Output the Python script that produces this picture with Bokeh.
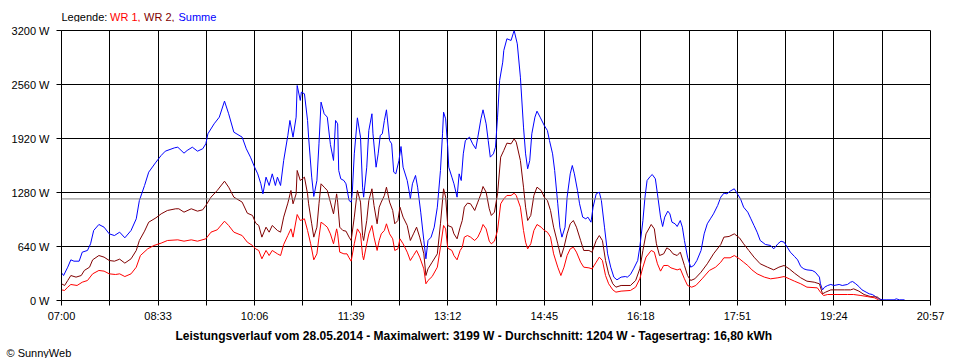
from bokeh.plotting import figure
from bokeh.models import FixedTicker, Span, Range1d, ColumnDataSource, Title
from bokeh.layouts import column
from bokeh.core.properties import value
from bokeh.embed import file_html
from bokeh.resources import INLINE

# ---- axis definitions (time in minutes after 07:00) ----
x_ticks = [0, 93, 186, 279, 372, 465, 558, 651, 744, 837]
x_labels = ["07:00", "08:33", "10:06", "11:39", "13:12", "14:45", "16:18", "17:51", "19:24", "20:57"]
x_half_ticks = [46.5, 139.5, 232.5, 325.5, 418.5, 511.5, 604.5, 697.5, 790.5]
y_ticks = [0, 640, 1280, 1920, 2560, 3200]
y_labels = ["0 W", "640 W", "1280 W", "1920 W", "2560 W", "3200 W"]
average_w = 1204

legend_texts = ["Legende:", "WR 1,", "WR 2,", "Summe"]
legend_colors = ["black", "#FF0000", "#800000", "#0000FF"]
title_text = ("Leistungsverlauf vom 28.05.2014 - Maximalwert: 3199 W - "
              "Durchschnitt: 1204 W - Tagesertrag: 16,80 kWh")
credit_text = "\u00a9 SunnyWeb"

# ---- Summe (blue) ----
summe_t = [0, 2, 6, 9, 12, 17, 20, 25, 28, 31, 36, 41, 46, 51, 56, 61, 67, 72, 75, 80, 84, 91, 96, 100,
           109, 112, 118, 121, 126, 131, 136, 139, 141, 147, 152, 157, 161, 166, 174, 178, 182, 186, 189,
           192, 194, 197, 200, 203, 206, 208, 211, 214, 218, 220, 223, 226, 227, 230, 231, 234, 237, 238,
           241, 243, 246, 248, 250, 253, 256, 259, 262, 264, 266, 267, 269, 272, 274, 277, 279, 280, 282,
           285, 288, 290, 291, 294, 296, 299, 300, 303, 305, 307, 309, 311, 313, 316, 318, 320, 322, 325,
           327, 329, 333, 335, 336, 338, 341, 343, 346, 349, 351, 353, 356, 359, 362, 365, 367, 368, 370,
           372, 373, 376, 378, 381, 383, 385, 387, 389, 393, 396, 399, 401, 404, 406, 409, 411, 413, 416,
           418, 420, 422, 425, 426, 429, 433, 435, 436, 439, 442, 445, 447, 449, 451, 453, 456, 458, 461,
           465, 468, 470, 473, 475, 478, 480, 482, 485, 487, 490, 492, 494, 497, 499, 502, 505, 507, 510,
           512, 515, 518, 520, 523, 526, 529, 532, 535, 539, 543, 545, 548, 551, 555, 557, 560, 562, 564,
           567, 569, 572, 574, 577, 579, 581, 584, 586, 588, 591, 593, 596, 598, 600, 603, 606, 609, 612,
           616, 619, 622, 625, 628, 632, 635, 638, 641, 644, 648, 651, 654, 657, 661, 664, 667, 670, 673,
           678, 683, 686, 690, 693, 696, 699, 702, 706, 709, 712, 715, 718, 723, 726, 730, 731, 733, 735,
           738, 741, 744, 749, 752, 757, 760, 762, 765, 768, 771, 775, 778, 781, 784, 787, 791, 795, 802,
           804, 807, 812]
summe_w = [328, 296, 395, 482, 466, 466, 573, 593, 672, 830, 901, 869, 790, 770, 810, 743, 830, 968, 1185,
           1363, 1521, 1640, 1719, 1770, 1810, 1817, 1746, 1778, 1817, 1770, 1798, 1857, 1976, 2094, 2173,
           2363, 2213, 1995, 1936, 1798, 1699, 1580, 1501, 1383, 1264, 1462, 1363, 1501, 1363, 1462, 1363,
           1659, 1956, 2134, 1936, 2173, 2548, 2371, 2469, 2450, 2134, 1936, 1462, 1233, 1422, 1857, 2351,
           2213, 2173, 1850, 1660, 2134, 2094, 1541, 1442, 1422, 1383, 1185, 1166, 1264, 1738, 2165, 1936,
           1343, 1225, 1580, 2015, 2213, 1976, 1580, 1738, 1956, 1976, 2134, 2260, 1896, 1857, 1521, 1501,
           1659, 1825, 1580, 1422, 1284, 1205, 1383, 1482, 1343, 1047, 711, 494, 711, 751, 869, 1106, 1541,
           1976, 2232, 2153, 1817, 1580, 1462, 1383, 1225, 1501, 1422, 1738, 1896, 1936, 1857, 1798, 1936,
           2153, 2260, 2094, 1896, 1699, 1738, 1817, 2173, 2608, 2825, 2963, 3102, 3082, 3161, 3199, 3042,
           2647, 2055, 1738, 1561, 1659, 1976, 2173, 2244, 2173, 2074, 2015, 1896, 1738, 1541, 1146, 869,
           751, 869, 1225, 1501, 1600, 1501, 1304, 1146, 988, 968, 988, 928, 1106, 1264, 1284, 1185, 869,
           553, 395, 277, 245, 277, 284, 277, 308, 375, 474, 632, 948, 1225, 1422, 1470, 1493, 1442, 1264,
           988, 877, 988, 1059, 1027, 928, 909, 877, 948, 869, 711, 514, 395, 415, 474, 593, 790, 909, 968,
           1027, 1126, 1225, 1272, 1264, 1296, 1324, 1264, 1205, 1106, 1047, 968, 889, 810, 711, 664, 652,
           612, 672, 703, 691, 632, 573, 522, 482, 403, 375, 363, 356, 336, 277, 198, 126, 158, 178, 190,
           178, 190, 178, 190, 217, 225, 198, 166, 126, 99, 79, 71, 47, 20, 8, 8, 8, 20, 8, 8]

# ---- WR 2 (dark red) ----
wr2_t = [0, 3, 6, 9, 14, 19, 22, 27, 30, 36, 41, 46, 51, 56, 61, 67, 72, 75, 80, 84, 91, 96, 102, 110, 113,
         118, 125, 131, 136, 139, 144, 150, 157, 161, 166, 174, 179, 184, 187, 190, 193, 197, 200, 203, 208,
         211, 214, 218, 221, 223, 226, 227, 230, 234, 237, 238, 241, 243, 246, 248, 250, 253, 256, 259, 262,
         265, 266, 268, 271, 274, 277, 279, 282, 285, 288, 290, 291, 294, 296, 299, 301, 304, 306, 308, 311,
         313, 316, 319, 321, 324, 326, 329, 333, 336, 339, 342, 345, 349, 351, 353, 357, 362, 365, 368, 370,
         372, 376, 378, 381, 384, 386, 388, 391, 394, 398, 401, 404, 406, 409, 412, 414, 417, 420, 423, 426,
         429, 433, 436, 438, 442, 445, 447, 449, 452, 455, 458, 462, 465, 468, 471, 474, 478, 481, 484, 487,
         490, 493, 496, 500, 503, 508, 511, 515, 518, 521, 524, 527, 531, 534, 539, 548, 553, 557, 560, 563,
         568, 571, 573, 576, 580, 583, 586, 589, 593, 596, 600, 603, 606, 610, 616, 622, 628, 635, 638, 643,
         648, 653, 657, 662, 667, 673, 680, 686, 691, 696, 701, 706, 712, 718, 725, 730, 733, 736, 741, 747,
         754, 760, 763, 768, 773, 779, 786, 789]
wr2_w = [198, 178, 237, 296, 277, 296, 356, 395, 482, 533, 514, 474, 466, 490, 443, 494, 593, 711, 822, 928,
         980, 1027, 1067, 1087, 1087, 1047, 1087, 1059, 1075, 1126, 1225, 1304, 1414, 1343, 1225, 1166, 1035,
         1008, 917, 889, 751, 869, 810, 889, 830, 810, 988, 1154, 1304, 1146, 1264, 1541, 1422, 1462, 1264,
         1146, 909, 751, 869, 1146, 1383, 1343, 1304, 1166, 1027, 1264, 1166, 869, 830, 822, 751, 711, 988,
         1304, 1166, 770, 711, 948, 1185, 1324, 1126, 909, 1106, 1166, 1245, 1343, 1166, 1067, 909, 948,
         1106, 988, 889, 711, 790, 869, 751, 553, 296, 375, 454, 553, 909, 1324, 1225, 889, 869, 790, 731,
         869, 948, 1106, 1154, 1146, 1067, 1166, 1264, 1351, 1284, 1087, 1008, 1047, 1264, 1699, 1778, 1865,
         1857, 1916, 1877, 1659, 1343, 1106, 948, 1008, 1245, 1343, 1304, 1225, 1185, 1067, 869, 672, 514,
         632, 790, 909, 948, 869, 711, 593, 593, 573, 711, 770, 711, 474, 316, 198, 158, 178, 178, 237, 375,
         593, 790, 901, 849, 672, 533, 553, 624, 601, 553, 533, 573, 415, 296, 237, 257, 336, 435, 553, 664,
         751, 759, 790, 743, 672, 593, 514, 435, 395, 363, 395, 415, 375, 324, 269, 229, 217, 198, 79, 99,
         126, 126, 126, 126, 138, 111, 71, 47, 40, 8]

# ---- WR 1 (red) ----
wr1_t = [0, 3, 6, 9, 15, 20, 25, 30, 36, 41, 46, 52, 56, 61, 67, 72, 76, 83, 89, 96, 102, 112, 118, 125, 131,
         139, 144, 150, 157, 161, 166, 174, 179, 184, 187, 190, 193, 197, 200, 203, 208, 211, 214, 218, 221,
         223, 227, 230, 234, 237, 240, 243, 246, 248, 250, 253, 256, 259, 262, 265, 266, 268, 272, 275, 277,
         279, 282, 285, 288, 290, 291, 294, 296, 299, 301, 304, 306, 308, 311, 313, 316, 319, 321, 324, 326,
         329, 333, 336, 339, 342, 345, 349, 351, 353, 357, 362, 365, 368, 370, 372, 376, 378, 381, 384, 386,
         388, 391, 394, 398, 401, 404, 406, 409, 412, 414, 417, 420, 423, 426, 429, 433, 436, 438, 442, 445,
         447, 449, 452, 455, 458, 462, 465, 468, 471, 474, 478, 481, 484, 487, 490, 493, 496, 500, 503, 508,
         511, 515, 518, 521, 524, 527, 531, 534, 539, 548, 553, 557, 560, 563, 568, 571, 574, 577, 580, 584,
         587, 590, 593, 596, 600, 603, 607, 611, 617, 624, 630, 635, 638, 644, 648, 653, 657, 661, 665, 670,
         677, 683, 690, 696, 701, 706, 712, 718, 728, 731, 734, 738, 747, 757, 763, 770, 776, 783, 787]
wr1_w = [126, 119, 158, 190, 178, 217, 237, 316, 356, 348, 316, 308, 316, 284, 316, 395, 533, 612, 652, 680,
         711, 719, 703, 719, 703, 731, 810, 838, 940, 889, 810, 770, 691, 652, 612, 593, 494, 593, 533, 593,
         553, 533, 664, 770, 849, 751, 1019, 948, 968, 830, 672, 482, 553, 751, 928, 901, 869, 790, 672, 849,
         790, 573, 553, 553, 506, 466, 672, 849, 790, 533, 482, 672, 790, 889, 751, 593, 711, 790, 830, 909,
         790, 731, 593, 612, 731, 672, 573, 474, 533, 593, 514, 375, 198, 237, 284, 395, 632, 889, 849, 620,
         593, 533, 482, 593, 632, 751, 770, 751, 711, 751, 830, 901, 849, 703, 672, 703, 830, 1146, 1205,
         1245, 1245, 1272, 1245, 1106, 830, 691, 612, 672, 830, 901, 869, 830, 810, 751, 553, 395, 296, 395,
         533, 612, 632, 573, 454, 395, 387, 375, 454, 514, 474, 296, 198, 126, 99, 111, 119, 158, 257, 395,
         514, 593, 573, 435, 348, 415, 415, 387, 375, 363, 375, 257, 178, 158, 178, 257, 356, 395, 454, 506,
         506, 533, 494, 454, 415, 363, 316, 277, 257, 269, 284, 257, 229, 198, 158, 150, 99, 59, 71, 71, 71,
         71, 59, 47, 32, 8]

FONT = "Liberation Sans"
W = 950
FRAME_L, FRAME_R = 61, 930


def text_strip(h):
    # frames of a column are aligned with the chart frame, so map the strip's
    # x range onto page pixels covered by that frame
    f = figure(width=W, height=h, output_backend="svg", toolbar_location=None,
               x_range=Range1d(FRAME_L, FRAME_R), y_range=Range1d(0, h),
               x_axis_location=None, y_axis_location=None, min_border=0,
               min_border_left=FRAME_L, min_border_right=W - FRAME_R)
    f.grid.visible = False
    f.outline_line_color = None
    f.background_fill_color = "white"
    f.border_fill_color = "white"
    return f


# ---- top strip: legend ----
top = text_strip(22)
leg_src = ColumnDataSource(dict(x=[61, 109.5, 143.5, 178], y=[5.5] * 4,
                                text=legend_texts, color=legend_colors))
top.text(x="x", y="y", text="text", text_color="color", source=leg_src,
         text_font=value(FONT), text_font_size="11px", text_baseline="middle", text_align="left")

# ---- main chart ----
p = figure(width=W, height=304, output_backend="svg", toolbar_location=None,
           x_range=Range1d(0, 837), y_range=Range1d(0, 3200),
           min_border_left=FRAME_L, min_border_right=W - FRAME_R, min_border_top=8, min_border_bottom=26)
p.background_fill_color = "white"
p.border_fill_color = "white"
p.outline_line_color = "black"
p.outline_line_alpha = 1.0
p.outline_line_width = 1

xa = p.xaxis[0]
xa.ticker = FixedTicker(ticks=x_ticks, minor_ticks=x_half_ticks)
xa.major_label_overrides = {t: l for t, l in zip(x_ticks, x_labels)}
ya = p.yaxis[0]
ya.ticker = FixedTicker(ticks=y_ticks, minor_ticks=[])
ya.major_label_overrides = {t: l for t, l in zip(y_ticks, y_labels)}
for ax in (xa, ya):
    ax.axis_line_color = "black"
    ax.major_tick_line_color = "black"
    ax.minor_tick_line_color = "black"
    ax.major_tick_in = 0
    ax.major_tick_out = 5
    ax.minor_tick_in = 0
    ax.minor_tick_out = 5
    ax.major_label_text_font = FONT
    ax.major_label_text_font_size = "11px"
    ax.major_label_text_color = "black"
xa.major_label_standoff = 4
ya.major_label_standoff = 7
ya.minor_tick_line_color = None

p.xgrid.grid_line_color = "black"
p.xgrid.grid_line_alpha = 1.0
p.xgrid.minor_grid_line_color = "black"
p.xgrid.minor_grid_line_alpha = 1.0
p.ygrid.grid_line_color = "black"
p.ygrid.grid_line_alpha = 1.0

p.add_layout(Span(location=average_w, dimension="width", line_color="#808080", line_width=1))

p.line(summe_t, summe_w, line_color="#0000FF", line_width=1)
p.line(wr2_t, wr2_w, line_color="#800000", line_width=1)
p.line(wr1_t, wr1_w, line_color="#FF0000", line_width=1)

# ---- bottom strip: summary line (above) and credit (below, shifted left of the frame) ----
bottom = text_strip(32)
bottom.add_layout(Title(text=title_text, align="left", offset=175 - FRAME_L, standoff=0,
                        text_font=FONT, text_font_size="12px", text_font_style="bold",
                        text_color="black"), "above")
bottom.add_layout(Title(text=credit_text, align="left", offset=6 - FRAME_L, standoff=0,
                        text_font=FONT, text_font_size="11px", text_font_style="normal",
                        text_color="black"), "below")

layout = column(top, p, bottom, spacing=0)
open("out.html", "w").write(file_html(layout, INLINE))
